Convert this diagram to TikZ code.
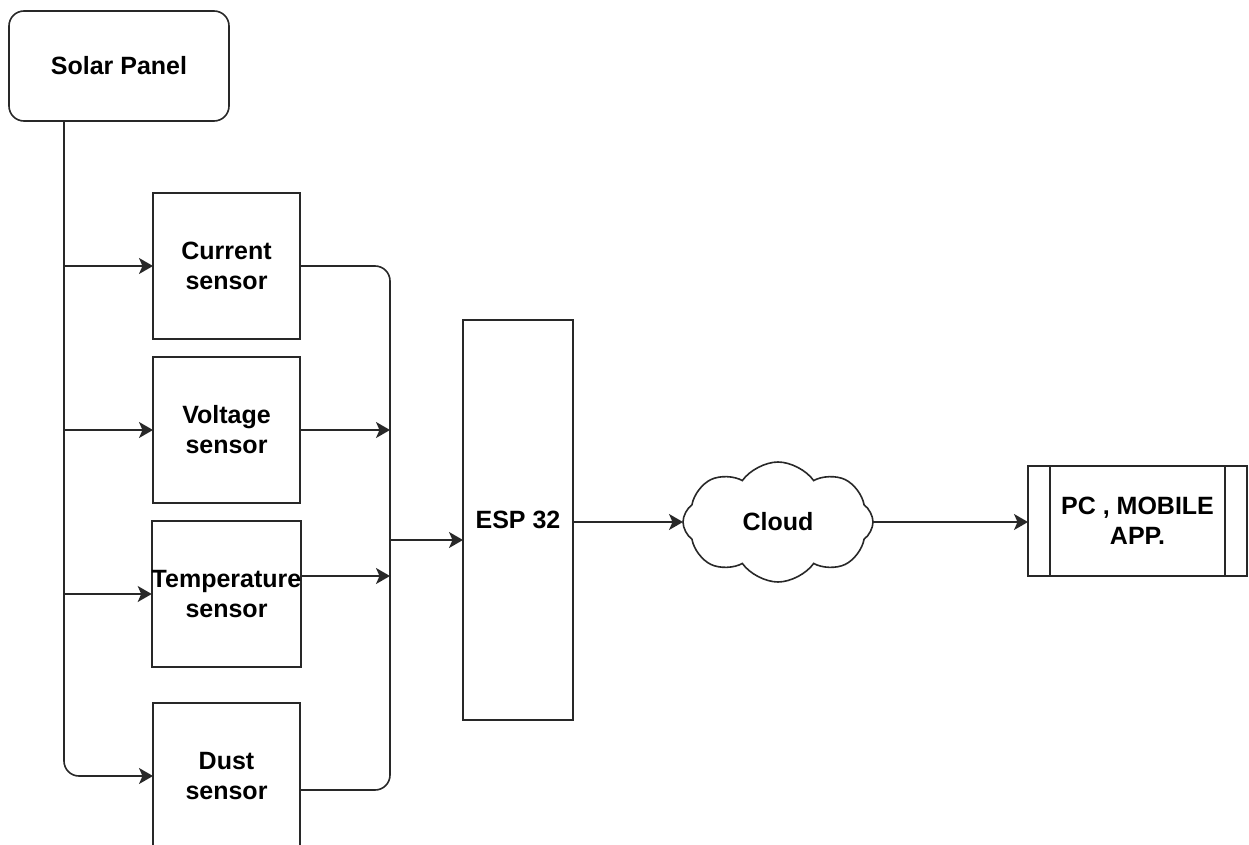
\documentclass[tikz,border=0pt]{standalone}
\usepackage{fontspec}
\setmainfont{Liberation Sans}
\usepackage{tikz}
\usetikzlibrary{arrows.meta}
\usetikzlibrary{shapes.symbols}

\begin{document}
\begin{tikzpicture}[x=1pt,y=1pt,yscale=-1,xscale=1,
		line width=1.6pt, draw={rgb,255:red,40;green,40;blue,40},
		box/.style={draw, inner sep=0pt, outer sep=0pt, align=center, font=\bfseries\fontsize{25}{30}\selectfont},
		sensorbox/.style={box, minimum width=147pt, minimum height=146pt},
		cloudy/.style={cloud, cloud puffs=8, cloud puff arc=110, aspect=1.6, box, minimum width=190pt, minimum height=120pt},
		arr/.style={-{Stealth[length=14pt,width=16pt,inset=3.5pt]}}]
	\useasboundingbox (0,0) rectangle (1249,845);
	
	%Shape: Rounded Rect
	\node [box, rounded corners=15pt, minimum width=220pt, minimum height=110pt] (solar) at (119,66) {Solar Panel};
	%Shape: Rectangles (sensors)
	\node [sensorbox] (cur) at (226.5,266) {Current\\sensor};
	\node [sensorbox] (volt) at (226.5,430) {Voltage\\sensor};
	\node [sensorbox] (temp) at (226.5,594) {Temperature\\sensor};
	\node [sensorbox] (dust) at (226.5,776) {Dust\\sensor};
	%Shape: Rectangle
	\node [box, minimum width=110pt, minimum height=400pt] (esp) at (518,520) {ESP 32};
	%Shape: Cloud
	\node [cloudy] (cloud) at (778,522) {Cloud};
	%Shape: Process
	\node [box, minimum width=219pt, minimum height=110pt] (pc) at (1137.5,521) {PC , MOBILE\\APP.};
	\draw ([xshift=22pt]pc.north west) -- ([xshift=22pt]pc.south west);
	\draw ([xshift=-22pt]pc.north east) -- ([xshift=-22pt]pc.south east);
	
	% feed from the panel
	\coordinate (tap) at (64,121);
	\draw [arr, rounded corners=15pt] (tap) |- (dust.west);
	\draw [arr] (tap |- cur.west) -- (cur.west);
	\draw [arr] (tap |- volt.west) -- (volt.west);
	\draw [arr] (tap |- temp.west) -- (temp.west);
	
	% sensor bus
	\coordinate (join) at (390,540);
	\draw [rounded corners=15pt] (cur.east) -| (join) |- ([yshift=14pt]dust.east);
	\draw [arr] (volt.east) -- (volt.east -| join);
	\draw [arr] ([yshift=-18pt]temp.east) -- ([yshift=-18pt]temp.east -| join);
	\draw [arr] (join) -- (join -| esp.west);
	
	\draw [arr] (esp.east |- cloud.west) -- (cloud.west);
	\draw [arr] (cloud.east) -- (cloud.east -| pc.west);
\end{tikzpicture}
\end{document}
